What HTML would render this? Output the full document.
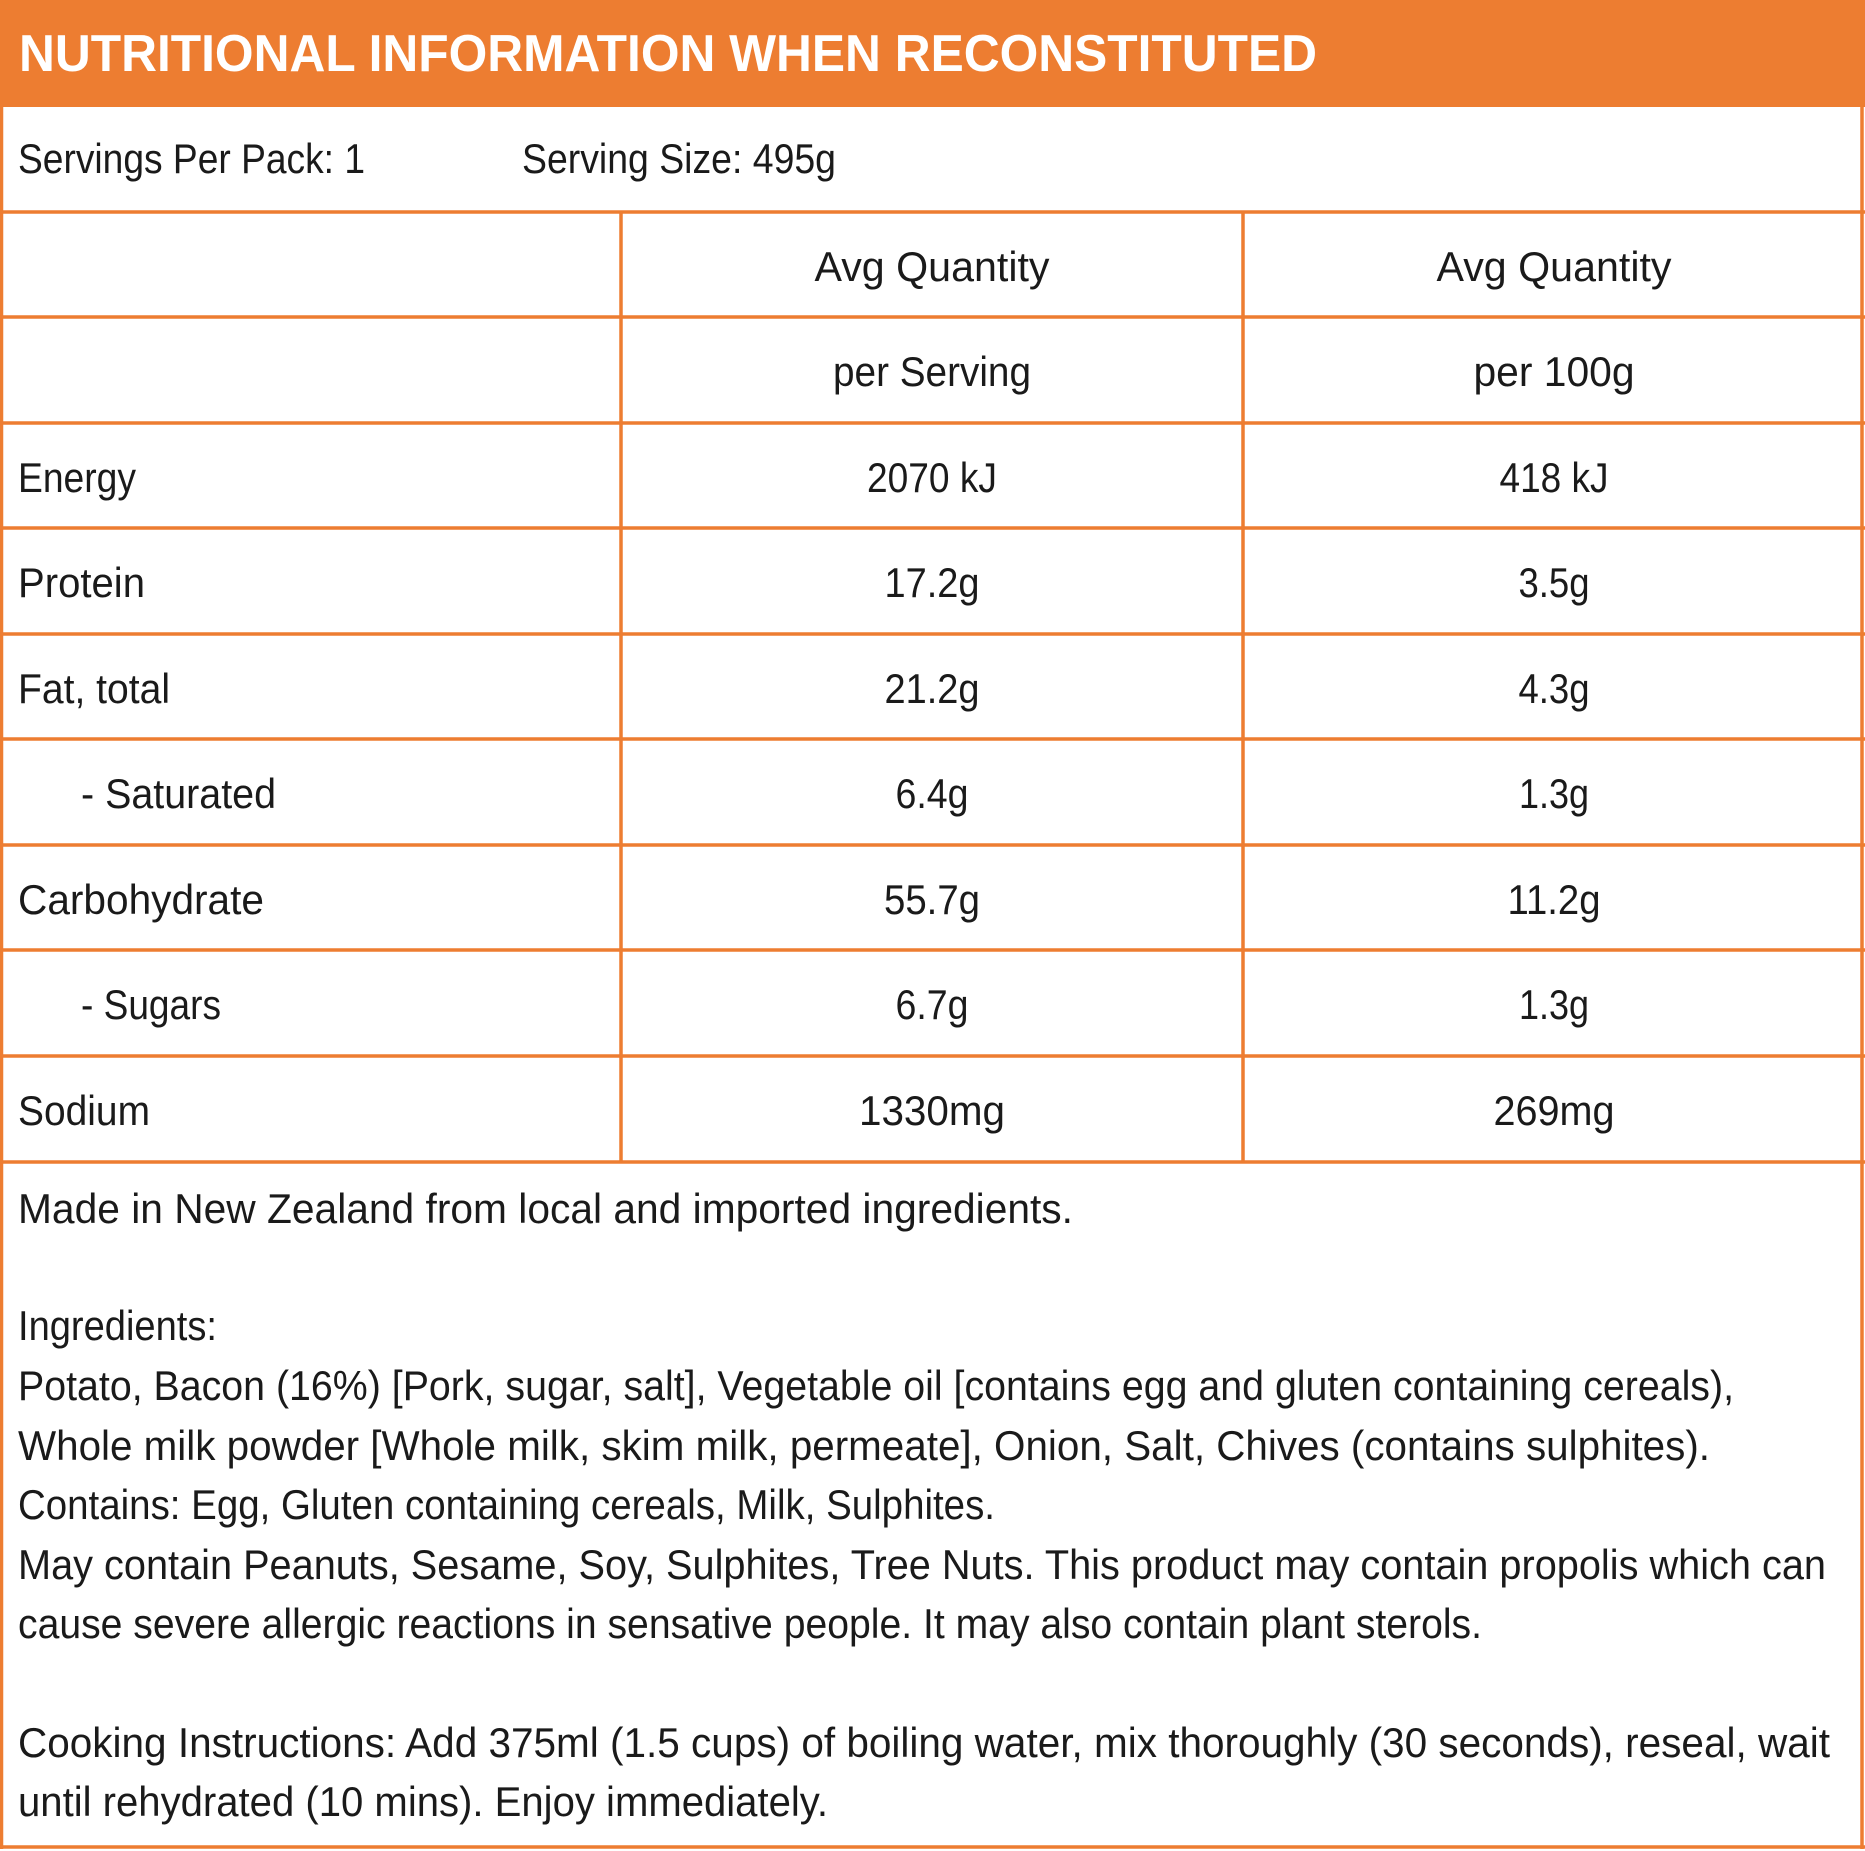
<!DOCTYPE html>
<html><head><meta charset="utf-8"><style>
html,body{margin:0;padding:0;background:#fff;}
svg{display:block;}
text{font-family:"Liberation Sans",sans-serif;fill:#1a1a1a;font-size:42px;}
.t{fill:#fff;font-weight:bold;font-size:52px;}
.m{text-anchor:middle;}
</style></head><body>
<svg width="1865" height="1851" viewBox="0 0 1865 1851" xmlns="http://www.w3.org/2000/svg">
<rect x="0" y="0" width="1865" height="1851" fill="#fff"/>
<rect x="0" y="0" width="1865" height="107" fill="#ED7D31"/>
<text class="t" x="19" y="71" textLength="1298" lengthAdjust="spacingAndGlyphs">NUTRITIONAL INFORMATION WHEN RECONSTITUTED</text>
<g stroke="#ED7D31" stroke-width="3.5" fill="none">
<line x1="1.5" y1="105" x2="1.5" y2="1849"/>
<line x1="1862" y1="105" x2="1862" y2="1849"/>
<line x1="0" y1="1847" x2="1865" y2="1847"/>
<line x1="0" y1="212" x2="1865" y2="212"/>
<line x1="0" y1="317" x2="1865" y2="317"/>
<line x1="0" y1="423" x2="1865" y2="423"/>
<line x1="0" y1="528" x2="1865" y2="528"/>
<line x1="0" y1="634" x2="1865" y2="634"/>
<line x1="0" y1="739" x2="1865" y2="739"/>
<line x1="0" y1="845" x2="1865" y2="845"/>
<line x1="0" y1="950" x2="1865" y2="950"/>
<line x1="0" y1="1056" x2="1865" y2="1056"/>
<line x1="0" y1="1162" x2="1865" y2="1162"/>
<line x1="621" y1="212" x2="621" y2="1162"/>
<line x1="1243" y1="212" x2="1243" y2="1162"/>
</g>
<text x="18" y="173" textLength="347" lengthAdjust="spacingAndGlyphs">Servings Per Pack: 1</text>
<text x="522" y="173" textLength="314" lengthAdjust="spacingAndGlyphs">Serving Size: 495g</text>

<text class="m" x="932" y="281" textLength="235" lengthAdjust="spacingAndGlyphs">Avg Quantity</text>
<text class="m" x="1554" y="281" textLength="235" lengthAdjust="spacingAndGlyphs">Avg Quantity</text>
<text class="m" x="932" y="386" textLength="198" lengthAdjust="spacingAndGlyphs">per Serving</text>
<text class="m" x="1554" y="386" textLength="161" lengthAdjust="spacingAndGlyphs">per 100g</text>

<text x="18" y="492" textLength="118" lengthAdjust="spacingAndGlyphs">Energy</text>
<text class="m" x="932" y="492" textLength="130" lengthAdjust="spacingAndGlyphs">2070 kJ</text>
<text class="m" x="1554" y="492" textLength="109" lengthAdjust="spacingAndGlyphs">418 kJ</text>

<text x="18" y="597" textLength="127" lengthAdjust="spacingAndGlyphs">Protein</text>
<text class="m" x="932" y="597" textLength="95" lengthAdjust="spacingAndGlyphs">17.2g</text>
<text class="m" x="1554" y="597" textLength="71" lengthAdjust="spacingAndGlyphs">3.5g</text>

<text x="18" y="703" textLength="152" lengthAdjust="spacingAndGlyphs">Fat, total</text>
<text class="m" x="932" y="703" textLength="95" lengthAdjust="spacingAndGlyphs">21.2g</text>
<text class="m" x="1554" y="703" textLength="71" lengthAdjust="spacingAndGlyphs">4.3g</text>

<text x="81" y="808" textLength="195" lengthAdjust="spacingAndGlyphs">- Saturated</text>
<text class="m" x="932" y="808" textLength="73" lengthAdjust="spacingAndGlyphs">6.4g</text>
<text class="m" x="1554" y="808" textLength="70" lengthAdjust="spacingAndGlyphs">1.3g</text>

<text x="18" y="914" textLength="246" lengthAdjust="spacingAndGlyphs">Carbohydrate</text>
<text class="m" x="932" y="914" textLength="96" lengthAdjust="spacingAndGlyphs">55.7g</text>
<text class="m" x="1554" y="914" textLength="93" lengthAdjust="spacingAndGlyphs">11.2g</text>

<text x="81" y="1019" textLength="140" lengthAdjust="spacingAndGlyphs">- Sugars</text>
<text class="m" x="932" y="1019" textLength="73" lengthAdjust="spacingAndGlyphs">6.7g</text>
<text class="m" x="1554" y="1019" textLength="70" lengthAdjust="spacingAndGlyphs">1.3g</text>

<text x="18" y="1125" textLength="132" lengthAdjust="spacingAndGlyphs">Sodium</text>
<text class="m" x="932" y="1125" textLength="146" lengthAdjust="spacingAndGlyphs">1330mg</text>
<text class="m" x="1554" y="1125" textLength="121" lengthAdjust="spacingAndGlyphs">269mg</text>

<text x="18" y="1223" textLength="1055" lengthAdjust="spacingAndGlyphs">Made in New Zealand from local and imported ingredients.</text>
<text x="18" y="1340" textLength="199" lengthAdjust="spacingAndGlyphs">Ingredients:</text>
<text x="18" y="1400" textLength="1716" lengthAdjust="spacingAndGlyphs">Potato, Bacon (16%) [Pork, sugar, salt], Vegetable oil [contains egg and gluten containing cereals),</text>
<text x="18" y="1460" textLength="1692" lengthAdjust="spacingAndGlyphs">Whole milk powder [Whole milk, skim milk, permeate], Onion, Salt, Chives (contains sulphites).</text>
<text x="18" y="1519" textLength="977" lengthAdjust="spacingAndGlyphs">Contains: Egg, Gluten containing cereals, Milk, Sulphites.</text>
<text x="18" y="1579" textLength="1808" lengthAdjust="spacingAndGlyphs">May contain Peanuts, Sesame, Soy, Sulphites, Tree Nuts. This product may contain propolis which can</text>
<text x="18" y="1638" textLength="1464" lengthAdjust="spacingAndGlyphs">cause severe allergic reactions in sensative people. It may also contain plant sterols.</text>
<text x="18" y="1757" textLength="1812" lengthAdjust="spacingAndGlyphs">Cooking Instructions: Add 375ml (1.5 cups) of boiling water, mix thoroughly (30 seconds), reseal, wait</text>
<text x="18" y="1816" textLength="810" lengthAdjust="spacingAndGlyphs">until rehydrated (10 mins). Enjoy immediately.</text>
</svg>
</body></html>
